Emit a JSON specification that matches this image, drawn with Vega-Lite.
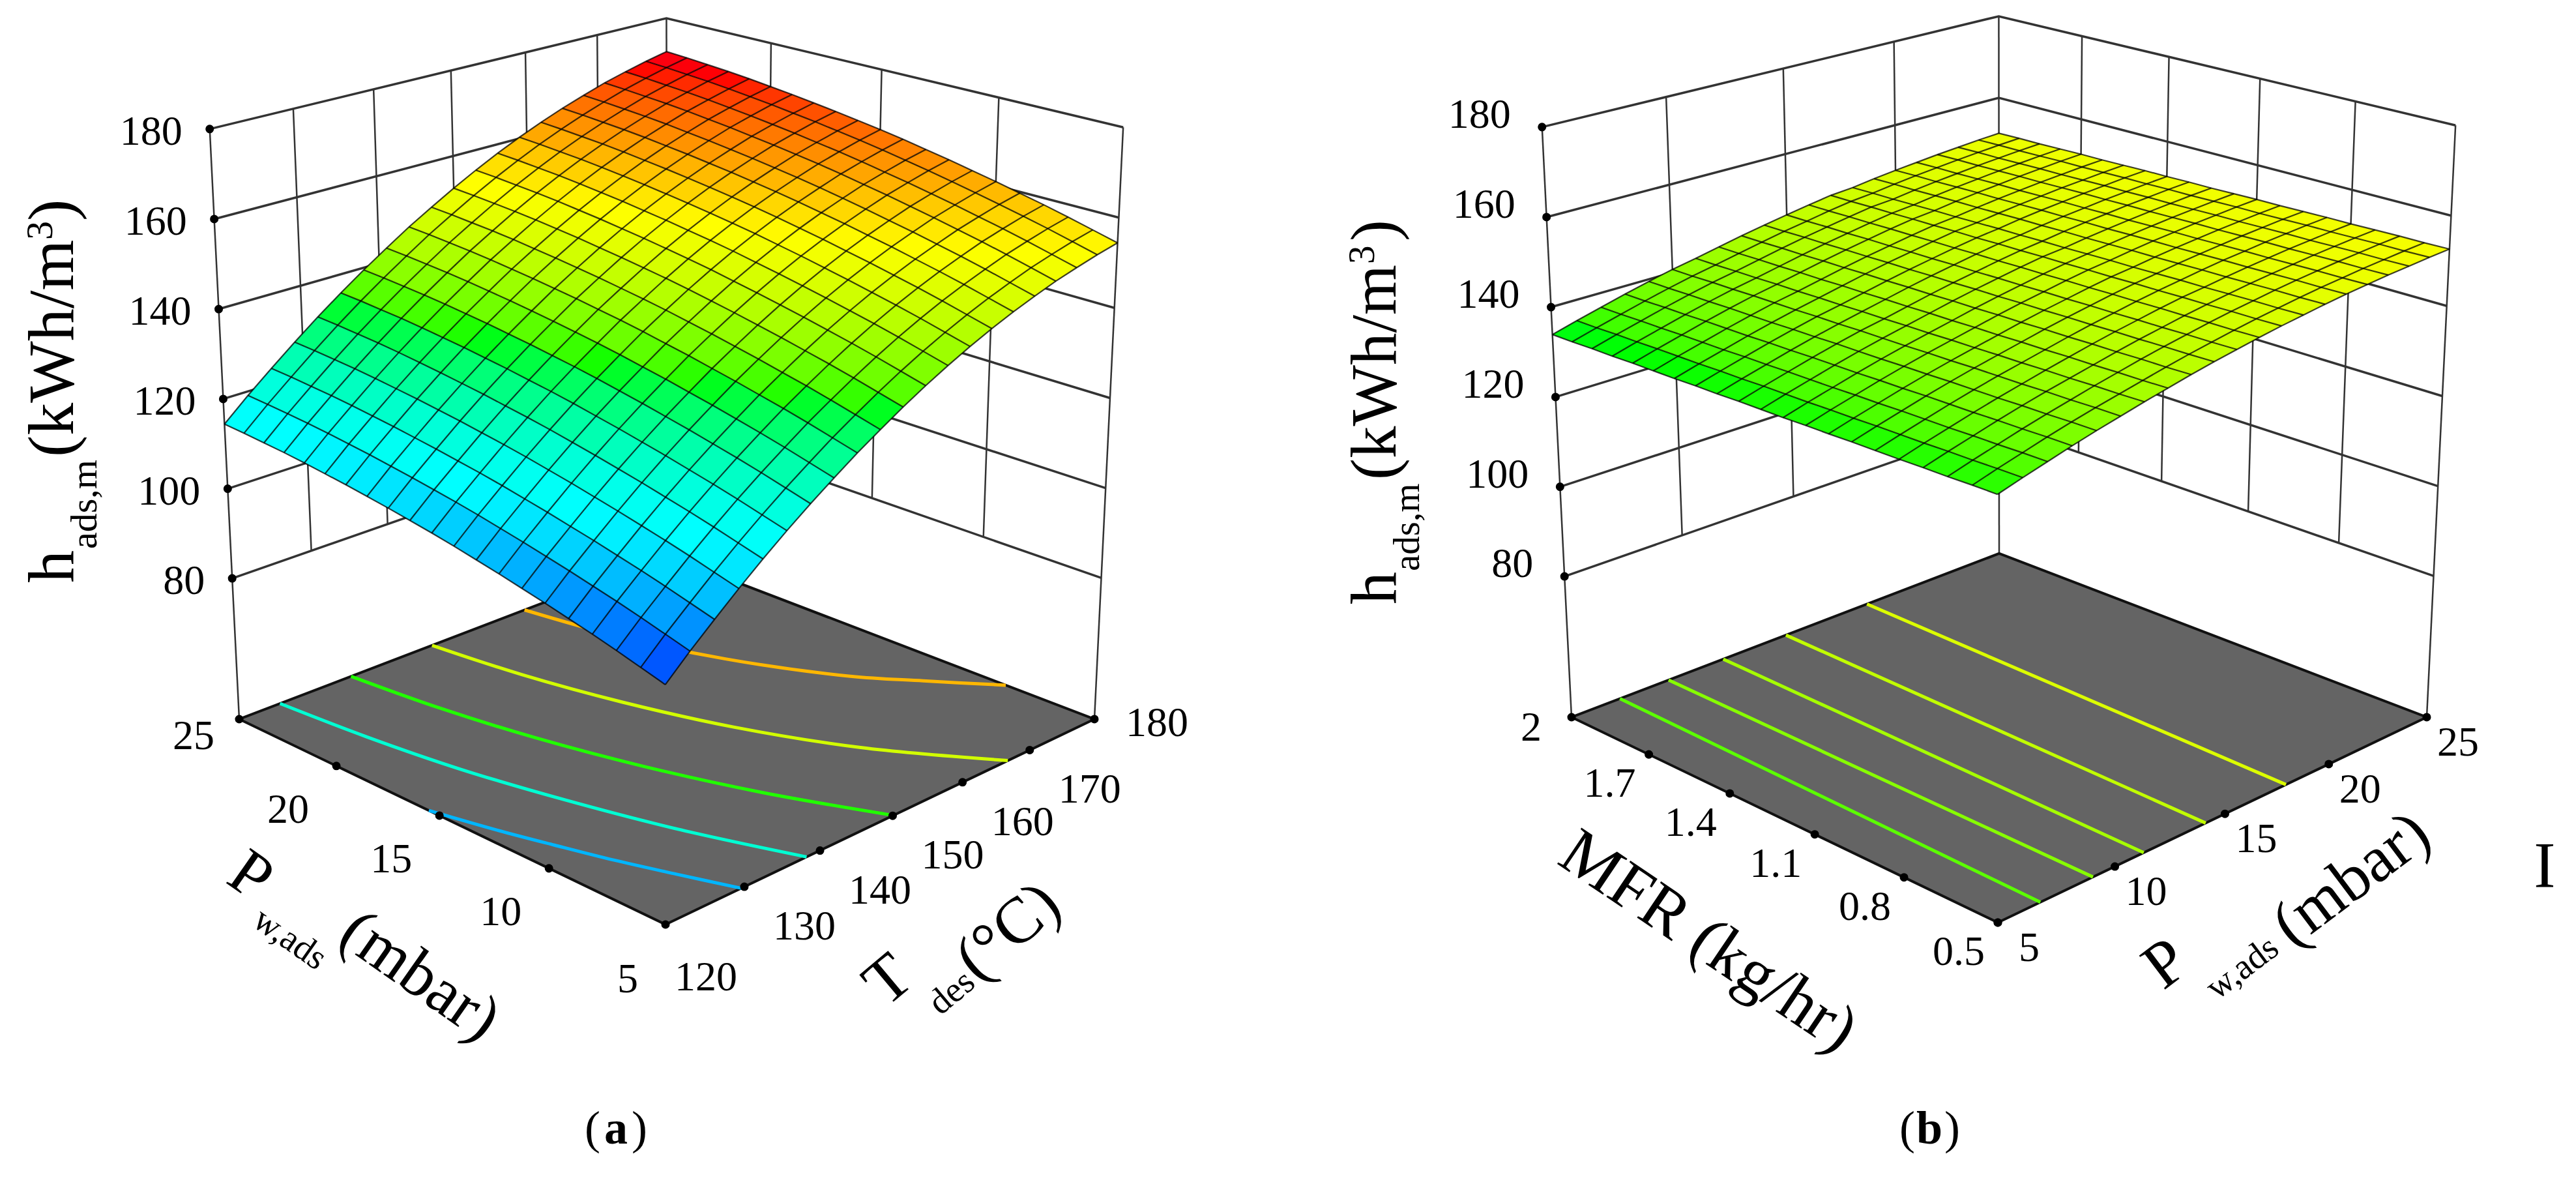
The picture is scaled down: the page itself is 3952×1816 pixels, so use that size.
{"$schema":"https://vega.github.io/schema/vega-lite/v6.json","autosize":{"type":"fit","contains":"padding"},"width":3952,"height":1816,"padding":0,"background":"white",
"config":{"view":{"stroke":null},"axis":{"disable":true},"text":{"font":"Liberation Serif","fontSize":64,"color":"black"}},
"data":{"values":[
{"k":"Z","T":120,"P":5},
{"k":"H","id":"a80","n":0,"T":120,"P":25,"h":80},{"k":"H","id":"a80","n":1,"T":180,"P":25,"h":80},{"k":"H","id":"a80","n":2,"T":180,"P":5,"h":80},
{"k":"H","id":"a100","n":0,"T":120,"P":25,"h":100},{"k":"H","id":"a100","n":1,"T":180,"P":25,"h":100},{"k":"H","id":"a100","n":2,"T":180,"P":5,"h":100},
{"k":"H","id":"a120","n":0,"T":120,"P":25,"h":120},{"k":"H","id":"a120","n":1,"T":180,"P":25,"h":120},{"k":"H","id":"a120","n":2,"T":180,"P":5,"h":120},
{"k":"H","id":"a140","n":0,"T":120,"P":25,"h":140},{"k":"H","id":"a140","n":1,"T":180,"P":25,"h":140},{"k":"H","id":"a140","n":2,"T":180,"P":5,"h":140},
{"k":"H","id":"a160","n":0,"T":120,"P":25,"h":160},{"k":"H","id":"a160","n":1,"T":180,"P":25,"h":160},{"k":"H","id":"a160","n":2,"T":180,"P":5,"h":160},
{"k":"H","id":"a180","n":0,"T":120,"P":25,"h":180},{"k":"H","id":"a180","n":1,"T":180,"P":25,"h":180},{"k":"H","id":"a180","n":2,"T":180,"P":5,"h":180},
{"k":"H","id":"b80","n":0,"P":5,"M":2,"h":80},{"k":"H","id":"b80","n":1,"P":25,"M":2,"h":80},{"k":"H","id":"b80","n":2,"P":25,"M":0.5,"h":80},
{"k":"H","id":"b100","n":0,"P":5,"M":2,"h":100},{"k":"H","id":"b100","n":1,"P":25,"M":2,"h":100},{"k":"H","id":"b100","n":2,"P":25,"M":0.5,"h":100},
{"k":"H","id":"b120","n":0,"P":5,"M":2,"h":120},{"k":"H","id":"b120","n":1,"P":25,"M":2,"h":120},{"k":"H","id":"b120","n":2,"P":25,"M":0.5,"h":120},
{"k":"H","id":"b140","n":0,"P":5,"M":2,"h":140},{"k":"H","id":"b140","n":1,"P":25,"M":2,"h":140},{"k":"H","id":"b140","n":2,"P":25,"M":0.5,"h":140},
{"k":"H","id":"b160","n":0,"P":5,"M":2,"h":160},{"k":"H","id":"b160","n":1,"P":25,"M":2,"h":160},{"k":"H","id":"b160","n":2,"P":25,"M":0.5,"h":160},
{"k":"H","id":"b180","n":0,"P":5,"M":2,"h":180},{"k":"H","id":"b180","n":1,"P":25,"M":2,"h":180},{"k":"H","id":"b180","n":2,"P":25,"M":0.5,"h":180},
{"k":"V","id":"a130","n":0,"T":130,"P":25,"h":80},{"k":"V","id":"a130","n":1,"T":130,"P":25,"h":180},
{"k":"V","id":"a140","n":0,"T":140,"P":25,"h":80},{"k":"V","id":"a140","n":1,"T":140,"P":25,"h":180},
{"k":"V","id":"a150","n":0,"T":150,"P":25,"h":80},{"k":"V","id":"a150","n":1,"T":150,"P":25,"h":180},
{"k":"V","id":"a160","n":0,"T":160,"P":25,"h":80},{"k":"V","id":"a160","n":1,"T":160,"P":25,"h":180},
{"k":"V","id":"a170","n":0,"T":170,"P":25,"h":80},{"k":"V","id":"a170","n":1,"T":170,"P":25,"h":180},
{"k":"V","id":"ap10","n":0,"T":180,"P":10,"h":80},{"k":"V","id":"ap10","n":1,"T":180,"P":10,"h":180},
{"k":"V","id":"ap15","n":0,"T":180,"P":15,"h":80},{"k":"V","id":"ap15","n":1,"T":180,"P":15,"h":180},
{"k":"V","id":"ap20","n":0,"T":180,"P":20,"h":80},{"k":"V","id":"ap20","n":1,"T":180,"P":20,"h":180},
{"k":"V","id":"ac1","n":0,"T":120,"P":25},{"k":"V","id":"ac1","n":1,"T":120,"P":25,"h":180},
{"k":"V","id":"ac2","n":0,"T":180,"P":25},{"k":"V","id":"ac2","n":1,"T":180,"P":25,"h":180},
{"k":"V","id":"ac3","n":0,"T":180,"P":5},{"k":"V","id":"ac3","n":1,"T":180,"P":5,"h":180},
{"k":"V","id":"bp10","n":0,"P":10,"M":2,"h":80},{"k":"V","id":"bp10","n":1,"P":10,"M":2,"h":180},
{"k":"V","id":"bp15","n":0,"P":15,"M":2,"h":80},{"k":"V","id":"bp15","n":1,"P":15,"M":2,"h":180},
{"k":"V","id":"bp20","n":0,"P":20,"M":2,"h":80},{"k":"V","id":"bp20","n":1,"P":20,"M":2,"h":180},
{"k":"V","id":"bm08","n":0,"P":25,"M":0.8,"h":80},{"k":"V","id":"bm08","n":1,"P":25,"M":0.8,"h":180},
{"k":"V","id":"bm11","n":0,"P":25,"M":1.1,"h":80},{"k":"V","id":"bm11","n":1,"P":25,"M":1.1,"h":180},
{"k":"V","id":"bm14","n":0,"P":25,"M":1.4,"h":80},{"k":"V","id":"bm14","n":1,"P":25,"M":1.4,"h":180},
{"k":"V","id":"bm17","n":0,"P":25,"M":1.7,"h":80},{"k":"V","id":"bm17","n":1,"P":25,"M":1.7,"h":180},
{"k":"V","id":"bc1","n":0,"P":5,"M":2},{"k":"V","id":"bc1","n":1,"P":5,"M":2,"h":180},
{"k":"V","id":"bc2","n":0,"P":25,"M":2},{"k":"V","id":"bc2","n":1,"P":25,"M":2,"h":180},
{"k":"V","id":"bc3","n":0,"P":25,"M":0.5},{"k":"V","id":"bc3","n":1,"P":25,"M":0.5,"h":180},
{"k":"F","id":"a","n":0,"T":120,"P":5},{"k":"F","id":"a","n":1,"T":180,"P":5},{"k":"F","id":"a","n":2,"T":180,"P":25},{"k":"F","id":"a","n":3,"T":120,"P":25},{"k":"F","id":"a","n":4,"T":120,"P":5},
{"k":"F","id":"b","n":0,"P":5,"M":0.5},{"k":"F","id":"b","n":1,"P":25,"M":0.5},{"k":"F","id":"b","n":2,"P":25,"M":2},{"k":"F","id":"b","n":3,"P":5,"M":2},{"k":"F","id":"b","n":4,"P":5,"M":0.5},
{"k":"C","id":"a1","n":0,"L":108,"T":120,"P":15.5},{"k":"C","id":"a1","n":1,"L":108,"T":121.8,"P":13},{"k":"C","id":"a1","n":2,"L":108,"T":123.5,"P":11},{"k":"C","id":"a1","n":3,"L":108,"T":125.3,"P":9},{"k":"C","id":"a1","n":4,"L":108,"T":127.4,"P":7},{"k":"C","id":"a1","n":5,"L":108,"T":129.6,"P":5},
{"k":"C","id":"a2","n":0,"L":122.3,"T":125.2,"P":25},{"k":"C","id":"a2","n":1,"L":122.3,"T":126.3,"P":21},{"k":"C","id":"a2","n":2,"L":122.3,"T":128,"P":17},{"k":"C","id":"a2","n":3,"L":122.3,"T":130.6,"P":13},{"k":"C","id":"a2","n":4,"L":122.3,"T":133.9,"P":9},{"k":"C","id":"a2","n":5,"L":122.3,"T":138.2,"P":5},
{"k":"C","id":"a3","n":0,"L":135.2,"T":134.5,"P":25},{"k":"C","id":"a3","n":1,"L":135.2,"T":135.8,"P":21},{"k":"C","id":"a3","n":2,"L":135.2,"T":137.9,"P":17},{"k":"C","id":"a3","n":3,"L":135.2,"T":140.9,"P":13},{"k":"C","id":"a3","n":4,"L":135.2,"T":144.9,"P":9},{"k":"C","id":"a3","n":5,"L":135.2,"T":150.1,"P":5},
{"k":"C","id":"a4","n":0,"L":148,"T":145.5,"P":25},{"k":"C","id":"a4","n":1,"L":148,"T":147.1,"P":21},{"k":"C","id":"a4","n":2,"L":148,"T":149.7,"P":17},{"k":"C","id":"a4","n":3,"L":148,"T":153.4,"P":13},{"k":"C","id":"a4","n":4,"L":148,"T":158.8,"P":9},{"k":"C","id":"a4","n":5,"L":148,"T":166.7,"P":5},
{"k":"C","id":"a5","n":0,"L":160,"T":158.6,"P":25},{"k":"C","id":"a5","n":1,"L":160,"T":160.8,"P":21},{"k":"C","id":"a5","n":2,"L":160,"T":164.6,"P":17},{"k":"C","id":"a5","n":3,"L":160,"T":170.5,"P":13},{"k":"C","id":"a5","n":4,"L":160,"T":174.9,"P":11},{"k":"C","id":"a5","n":5,"L":160,"T":180,"P":8.8},
{"k":"C","id":"b1","n":0,"L":137.4,"P":7.06,"M":2},{"k":"C","id":"b1","n":1,"L":137.4,"P":6.78,"M":0.5},
{"k":"C","id":"b2","n":0,"L":140.4,"P":9.18,"M":2},{"k":"C","id":"b2","n":1,"L":140.4,"P":9.04,"M":0.5},
{"k":"C","id":"b3","n":0,"L":143.2,"P":11.62,"M":2},{"k":"C","id":"b3","n":1,"L":143.2,"P":11.28,"M":0.5},
{"k":"C","id":"b4","n":0,"L":146.2,"P":14.5,"M":2},{"k":"C","id":"b4","n":1,"L":146.2,"P":14.1,"M":0.5},
{"k":"C","id":"b5","n":0,"L":149.2,"P":18.36,"M":2},{"k":"C","id":"b5","n":1,"L":149.2,"P":17.9,"M":0.5},
{"k":"t0","T":120,"P":5},{"k":"t0","T":180,"P":5},{"k":"t0","T":120,"P":25},{"k":"t0","P":5,"M":2},
{"k":"tT","T":130,"P":5,"l":"130"},{"k":"tT","T":140,"P":5,"l":"140"},{"k":"tT","T":150,"P":5,"l":"150"},{"k":"tT","T":160,"P":5,"l":"160"},{"k":"tT","T":170,"P":5,"l":"170"},
{"k":"tP","T":120,"P":10,"l":"10"},{"k":"tP","T":120,"P":15,"l":"15"},{"k":"tP","T":120,"P":20,"l":"20"},
{"k":"tQ","P":5,"M":0.5,"l":"5"},{"k":"tQ","P":10,"M":0.5,"l":"10"},{"k":"tQ","P":15,"M":0.5,"l":"15"},{"k":"tQ","P":20,"M":0.5,"l":"20"},{"k":"tQ","P":25,"M":0.5,"l":"25"},
{"k":"tM","P":5,"M":0.5,"l":"0.5"},{"k":"tM","P":5,"M":0.8,"l":"0.8"},{"k":"tM","P":5,"M":1.1,"l":"1.1"},{"k":"tM","P":5,"M":1.4,"l":"1.4"},{"k":"tM","P":5,"M":1.7,"l":"1.7"},
{"k":"ta","T":120,"P":25,"h":80,"l":"80"},{"k":"ta","T":120,"P":25,"h":100,"l":"100"},{"k":"ta","T":120,"P":25,"h":120,"l":"120"},{"k":"ta","T":120,"P":25,"h":140,"l":"140"},{"k":"ta","T":120,"P":25,"h":160,"l":"160"},{"k":"ta","T":120,"P":25,"h":180,"l":"180"},
{"k":"tb","P":5,"M":2,"h":80,"l":"80"},{"k":"tb","P":5,"M":2,"h":100,"l":"100"},{"k":"tb","P":5,"M":2,"h":120,"l":"120"},{"k":"tb","P":5,"M":2,"h":140,"l":"140"},{"k":"tb","P":5,"M":2,"h":160,"l":"160"},{"k":"tb","P":5,"M":2,"h":180,"l":"180"},
{"T":120,"P":5,"h":97},{"T":120,"P":6,"h":98.4},{"T":120,"P":7,"h":99.8},{"T":120,"P":8,"h":101.1},{"T":120,"P":9,"h":102.3},{"T":120,"P":10,"h":103.5},{"T":120,"P":11,"h":104.6},{"T":120,"P":12,"h":105.7},{"T":120,"P":13,"h":106.7},{"T":120,"P":14,"h":107.7},{"T":120,"P":15,"h":108.6},{"T":120,"P":16,"h":109.4},{"T":120,"P":17,"h":110.2},{"T":120,"P":18,"h":110.9},{"T":120,"P":19,"h":111.6},{"T":120,"P":20,"h":112.2},{"T":120,"P":21,"h":112.8},{"T":120,"P":22,"h":113.3},{"T":120,"P":23,"h":113.7},{"T":120,"P":24,"h":114.1},{"T":120,"P":25,"h":114.4},
{"T":123,"P":5,"h":101.7},{"T":123,"P":6,"h":103.1},{"T":123,"P":7,"h":104.5},{"T":123,"P":8,"h":105.8},{"T":123,"P":9,"h":107},{"T":123,"P":10,"h":108.2},{"T":123,"P":11,"h":109.3},{"T":123,"P":12,"h":110.4},{"T":123,"P":13,"h":111.4},{"T":123,"P":14,"h":112.4},{"T":123,"P":15,"h":113.3},{"T":123,"P":16,"h":114.1},{"T":123,"P":17,"h":114.9},{"T":123,"P":18,"h":115.6},{"T":123,"P":19,"h":116.3},{"T":123,"P":20,"h":116.9},{"T":123,"P":21,"h":117.5},{"T":123,"P":22,"h":118},{"T":123,"P":23,"h":118.4},{"T":123,"P":24,"h":118.8},{"T":123,"P":25,"h":119.1},
{"T":126,"P":5,"h":106.1},{"T":126,"P":6,"h":107.5},{"T":126,"P":7,"h":108.9},{"T":126,"P":8,"h":110.2},{"T":126,"P":9,"h":111.4},{"T":126,"P":10,"h":112.6},{"T":126,"P":11,"h":113.7},{"T":126,"P":12,"h":114.8},{"T":126,"P":13,"h":115.8},{"T":126,"P":14,"h":116.8},{"T":126,"P":15,"h":117.7},{"T":126,"P":16,"h":118.5},{"T":126,"P":17,"h":119.3},{"T":126,"P":18,"h":120},{"T":126,"P":19,"h":120.7},{"T":126,"P":20,"h":121.3},{"T":126,"P":21,"h":121.9},{"T":126,"P":22,"h":122.4},{"T":126,"P":23,"h":122.8},{"T":126,"P":24,"h":123.2},{"T":126,"P":25,"h":123.5},
{"T":129,"P":5,"h":110.4},{"T":129,"P":6,"h":111.8},{"T":129,"P":7,"h":113.2},{"T":129,"P":8,"h":114.5},{"T":129,"P":9,"h":115.7},{"T":129,"P":10,"h":116.9},{"T":129,"P":11,"h":118},{"T":129,"P":12,"h":119.1},{"T":129,"P":13,"h":120.1},{"T":129,"P":14,"h":121.1},{"T":129,"P":15,"h":122},{"T":129,"P":16,"h":122.8},{"T":129,"P":17,"h":123.6},{"T":129,"P":18,"h":124.3},{"T":129,"P":19,"h":125},{"T":129,"P":20,"h":125.6},{"T":129,"P":21,"h":126.2},{"T":129,"P":22,"h":126.7},{"T":129,"P":23,"h":127.1},{"T":129,"P":24,"h":127.5},{"T":129,"P":25,"h":127.8},
{"T":132,"P":5,"h":114.5},{"T":132,"P":6,"h":115.9},{"T":132,"P":7,"h":117.3},{"T":132,"P":8,"h":118.6},{"T":132,"P":9,"h":119.8},{"T":132,"P":10,"h":121},{"T":132,"P":11,"h":122.1},{"T":132,"P":12,"h":123.2},{"T":132,"P":13,"h":124.2},{"T":132,"P":14,"h":125.2},{"T":132,"P":15,"h":126.1},{"T":132,"P":16,"h":126.9},{"T":132,"P":17,"h":127.7},{"T":132,"P":18,"h":128.4},{"T":132,"P":19,"h":129.1},{"T":132,"P":20,"h":129.7},{"T":132,"P":21,"h":130.3},{"T":132,"P":22,"h":130.8},{"T":132,"P":23,"h":131.2},{"T":132,"P":24,"h":131.6},{"T":132,"P":25,"h":131.9},
{"T":135,"P":5,"h":118.4},{"T":135,"P":6,"h":119.8},{"T":135,"P":7,"h":121.2},{"T":135,"P":8,"h":122.5},{"T":135,"P":9,"h":123.7},{"T":135,"P":10,"h":124.9},{"T":135,"P":11,"h":126},{"T":135,"P":12,"h":127.1},{"T":135,"P":13,"h":128.1},{"T":135,"P":14,"h":129.1},{"T":135,"P":15,"h":130},{"T":135,"P":16,"h":130.8},{"T":135,"P":17,"h":131.6},{"T":135,"P":18,"h":132.3},{"T":135,"P":19,"h":133},{"T":135,"P":20,"h":133.6},{"T":135,"P":21,"h":134.2},{"T":135,"P":22,"h":134.7},{"T":135,"P":23,"h":135.1},{"T":135,"P":24,"h":135.5},{"T":135,"P":25,"h":135.8},
{"T":138,"P":5,"h":122.1},{"T":138,"P":6,"h":123.5},{"T":138,"P":7,"h":124.9},{"T":138,"P":8,"h":126.2},{"T":138,"P":9,"h":127.4},{"T":138,"P":10,"h":128.6},{"T":138,"P":11,"h":129.7},{"T":138,"P":12,"h":130.8},{"T":138,"P":13,"h":131.8},{"T":138,"P":14,"h":132.8},{"T":138,"P":15,"h":133.7},{"T":138,"P":16,"h":134.5},{"T":138,"P":17,"h":135.3},{"T":138,"P":18,"h":136},{"T":138,"P":19,"h":136.7},{"T":138,"P":20,"h":137.3},{"T":138,"P":21,"h":137.9},{"T":138,"P":22,"h":138.4},{"T":138,"P":23,"h":138.8},{"T":138,"P":24,"h":139.2},{"T":138,"P":25,"h":139.5},
{"T":141,"P":5,"h":125.6},{"T":141,"P":6,"h":127},{"T":141,"P":7,"h":128.4},{"T":141,"P":8,"h":129.7},{"T":141,"P":9,"h":130.9},{"T":141,"P":10,"h":132.1},{"T":141,"P":11,"h":133.2},{"T":141,"P":12,"h":134.3},{"T":141,"P":13,"h":135.3},{"T":141,"P":14,"h":136.3},{"T":141,"P":15,"h":137.2},{"T":141,"P":16,"h":138},{"T":141,"P":17,"h":138.8},{"T":141,"P":18,"h":139.5},{"T":141,"P":19,"h":140.2},{"T":141,"P":20,"h":140.8},{"T":141,"P":21,"h":141.4},{"T":141,"P":22,"h":141.9},{"T":141,"P":23,"h":142.3},{"T":141,"P":24,"h":142.7},{"T":141,"P":25,"h":143},
{"T":144,"P":5,"h":129},{"T":144,"P":6,"h":130.4},{"T":144,"P":7,"h":131.8},{"T":144,"P":8,"h":133.1},{"T":144,"P":9,"h":134.3},{"T":144,"P":10,"h":135.5},{"T":144,"P":11,"h":136.6},{"T":144,"P":12,"h":137.7},{"T":144,"P":13,"h":138.7},{"T":144,"P":14,"h":139.7},{"T":144,"P":15,"h":140.6},{"T":144,"P":16,"h":141.4},{"T":144,"P":17,"h":142.2},{"T":144,"P":18,"h":142.9},{"T":144,"P":19,"h":143.6},{"T":144,"P":20,"h":144.2},{"T":144,"P":21,"h":144.8},{"T":144,"P":22,"h":145.3},{"T":144,"P":23,"h":145.7},{"T":144,"P":24,"h":146.1},{"T":144,"P":25,"h":146.4},
{"T":147,"P":5,"h":132.1},{"T":147,"P":6,"h":133.5},{"T":147,"P":7,"h":134.9},{"T":147,"P":8,"h":136.2},{"T":147,"P":9,"h":137.4},{"T":147,"P":10,"h":138.6},{"T":147,"P":11,"h":139.7},{"T":147,"P":12,"h":140.8},{"T":147,"P":13,"h":141.8},{"T":147,"P":14,"h":142.8},{"T":147,"P":15,"h":143.7},{"T":147,"P":16,"h":144.5},{"T":147,"P":17,"h":145.3},{"T":147,"P":18,"h":146},{"T":147,"P":19,"h":146.7},{"T":147,"P":20,"h":147.3},{"T":147,"P":21,"h":147.9},{"T":147,"P":22,"h":148.4},{"T":147,"P":23,"h":148.8},{"T":147,"P":24,"h":149.2},{"T":147,"P":25,"h":149.5},
{"T":150,"P":5,"h":135.1},{"T":150,"P":6,"h":136.5},{"T":150,"P":7,"h":137.9},{"T":150,"P":8,"h":139.2},{"T":150,"P":9,"h":140.4},{"T":150,"P":10,"h":141.6},{"T":150,"P":11,"h":142.7},{"T":150,"P":12,"h":143.8},{"T":150,"P":13,"h":144.8},{"T":150,"P":14,"h":145.8},{"T":150,"P":15,"h":146.7},{"T":150,"P":16,"h":147.5},{"T":150,"P":17,"h":148.3},{"T":150,"P":18,"h":149},{"T":150,"P":19,"h":149.7},{"T":150,"P":20,"h":150.3},{"T":150,"P":21,"h":150.9},{"T":150,"P":22,"h":151.4},{"T":150,"P":23,"h":151.8},{"T":150,"P":24,"h":152.2},{"T":150,"P":25,"h":152.5},
{"T":153,"P":5,"h":137.9},{"T":153,"P":6,"h":139.3},{"T":153,"P":7,"h":140.7},{"T":153,"P":8,"h":142},{"T":153,"P":9,"h":143.2},{"T":153,"P":10,"h":144.4},{"T":153,"P":11,"h":145.5},{"T":153,"P":12,"h":146.6},{"T":153,"P":13,"h":147.6},{"T":153,"P":14,"h":148.6},{"T":153,"P":15,"h":149.5},{"T":153,"P":16,"h":150.3},{"T":153,"P":17,"h":151.1},{"T":153,"P":18,"h":151.8},{"T":153,"P":19,"h":152.5},{"T":153,"P":20,"h":153.1},{"T":153,"P":21,"h":153.7},{"T":153,"P":22,"h":154.2},{"T":153,"P":23,"h":154.6},{"T":153,"P":24,"h":155},{"T":153,"P":25,"h":155.3},
{"T":156,"P":5,"h":140.5},{"T":156,"P":6,"h":141.9},{"T":156,"P":7,"h":143.3},{"T":156,"P":8,"h":144.6},{"T":156,"P":9,"h":145.8},{"T":156,"P":10,"h":147},{"T":156,"P":11,"h":148.1},{"T":156,"P":12,"h":149.2},{"T":156,"P":13,"h":150.2},{"T":156,"P":14,"h":151.2},{"T":156,"P":15,"h":152.1},{"T":156,"P":16,"h":152.9},{"T":156,"P":17,"h":153.7},{"T":156,"P":18,"h":154.4},{"T":156,"P":19,"h":155.1},{"T":156,"P":20,"h":155.7},{"T":156,"P":21,"h":156.3},{"T":156,"P":22,"h":156.8},{"T":156,"P":23,"h":157.2},{"T":156,"P":24,"h":157.6},{"T":156,"P":25,"h":157.9},
{"T":159,"P":5,"h":142.9},{"T":159,"P":6,"h":144.3},{"T":159,"P":7,"h":145.7},{"T":159,"P":8,"h":147},{"T":159,"P":9,"h":148.2},{"T":159,"P":10,"h":149.4},{"T":159,"P":11,"h":150.5},{"T":159,"P":12,"h":151.6},{"T":159,"P":13,"h":152.6},{"T":159,"P":14,"h":153.6},{"T":159,"P":15,"h":154.5},{"T":159,"P":16,"h":155.3},{"T":159,"P":17,"h":156.1},{"T":159,"P":18,"h":156.8},{"T":159,"P":19,"h":157.5},{"T":159,"P":20,"h":158.1},{"T":159,"P":21,"h":158.7},{"T":159,"P":22,"h":159.2},{"T":159,"P":23,"h":159.6},{"T":159,"P":24,"h":160},{"T":159,"P":25,"h":160.3},
{"T":162,"P":5,"h":145.1},{"T":162,"P":6,"h":146.5},{"T":162,"P":7,"h":147.9},{"T":162,"P":8,"h":149.2},{"T":162,"P":9,"h":150.4},{"T":162,"P":10,"h":151.6},{"T":162,"P":11,"h":152.7},{"T":162,"P":12,"h":153.8},{"T":162,"P":13,"h":154.8},{"T":162,"P":14,"h":155.8},{"T":162,"P":15,"h":156.7},{"T":162,"P":16,"h":157.5},{"T":162,"P":17,"h":158.3},{"T":162,"P":18,"h":159},{"T":162,"P":19,"h":159.7},{"T":162,"P":20,"h":160.3},{"T":162,"P":21,"h":160.9},{"T":162,"P":22,"h":161.4},{"T":162,"P":23,"h":161.8},{"T":162,"P":24,"h":162.2},{"T":162,"P":25,"h":162.5},
{"T":165,"P":5,"h":147.1},{"T":165,"P":6,"h":148.5},{"T":165,"P":7,"h":149.9},{"T":165,"P":8,"h":151.2},{"T":165,"P":9,"h":152.4},{"T":165,"P":10,"h":153.6},{"T":165,"P":11,"h":154.7},{"T":165,"P":12,"h":155.8},{"T":165,"P":13,"h":156.8},{"T":165,"P":14,"h":157.8},{"T":165,"P":15,"h":158.7},{"T":165,"P":16,"h":159.5},{"T":165,"P":17,"h":160.3},{"T":165,"P":18,"h":161},{"T":165,"P":19,"h":161.7},{"T":165,"P":20,"h":162.3},{"T":165,"P":21,"h":162.9},{"T":165,"P":22,"h":163.4},{"T":165,"P":23,"h":163.8},{"T":165,"P":24,"h":164.2},{"T":165,"P":25,"h":164.5},
{"T":168,"P":5,"h":148.9},{"T":168,"P":6,"h":150.3},{"T":168,"P":7,"h":151.7},{"T":168,"P":8,"h":153},{"T":168,"P":9,"h":154.2},{"T":168,"P":10,"h":155.4},{"T":168,"P":11,"h":156.5},{"T":168,"P":12,"h":157.6},{"T":168,"P":13,"h":158.6},{"T":168,"P":14,"h":159.6},{"T":168,"P":15,"h":160.5},{"T":168,"P":16,"h":161.3},{"T":168,"P":17,"h":162.1},{"T":168,"P":18,"h":162.8},{"T":168,"P":19,"h":163.5},{"T":168,"P":20,"h":164.1},{"T":168,"P":21,"h":164.7},{"T":168,"P":22,"h":165.2},{"T":168,"P":23,"h":165.6},{"T":168,"P":24,"h":166},{"T":168,"P":25,"h":166.3},
{"T":171,"P":5,"h":150.6},{"T":171,"P":6,"h":152},{"T":171,"P":7,"h":153.4},{"T":171,"P":8,"h":154.7},{"T":171,"P":9,"h":155.9},{"T":171,"P":10,"h":157.1},{"T":171,"P":11,"h":158.2},{"T":171,"P":12,"h":159.3},{"T":171,"P":13,"h":160.3},{"T":171,"P":14,"h":161.3},{"T":171,"P":15,"h":162.2},{"T":171,"P":16,"h":163},{"T":171,"P":17,"h":163.8},{"T":171,"P":18,"h":164.5},{"T":171,"P":19,"h":165.2},{"T":171,"P":20,"h":165.8},{"T":171,"P":21,"h":166.4},{"T":171,"P":22,"h":166.9},{"T":171,"P":23,"h":167.3},{"T":171,"P":24,"h":167.7},{"T":171,"P":25,"h":168},
{"T":174,"P":5,"h":152},{"T":174,"P":6,"h":153.4},{"T":174,"P":7,"h":154.8},{"T":174,"P":8,"h":156.1},{"T":174,"P":9,"h":157.3},{"T":174,"P":10,"h":158.5},{"T":174,"P":11,"h":159.6},{"T":174,"P":12,"h":160.7},{"T":174,"P":13,"h":161.7},{"T":174,"P":14,"h":162.7},{"T":174,"P":15,"h":163.6},{"T":174,"P":16,"h":164.4},{"T":174,"P":17,"h":165.2},{"T":174,"P":18,"h":165.9},{"T":174,"P":19,"h":166.6},{"T":174,"P":20,"h":167.2},{"T":174,"P":21,"h":167.8},{"T":174,"P":22,"h":168.3},{"T":174,"P":23,"h":168.7},{"T":174,"P":24,"h":169.1},{"T":174,"P":25,"h":169.4},
{"T":177,"P":5,"h":153.3},{"T":177,"P":6,"h":154.7},{"T":177,"P":7,"h":156.1},{"T":177,"P":8,"h":157.4},{"T":177,"P":9,"h":158.6},{"T":177,"P":10,"h":159.8},{"T":177,"P":11,"h":160.9},{"T":177,"P":12,"h":162},{"T":177,"P":13,"h":163},{"T":177,"P":14,"h":164},{"T":177,"P":15,"h":164.9},{"T":177,"P":16,"h":165.7},{"T":177,"P":17,"h":166.5},{"T":177,"P":18,"h":167.2},{"T":177,"P":19,"h":167.9},{"T":177,"P":20,"h":168.5},{"T":177,"P":21,"h":169.1},{"T":177,"P":22,"h":169.6},{"T":177,"P":23,"h":170},{"T":177,"P":24,"h":170.4},{"T":177,"P":25,"h":170.7},
{"T":180,"P":5,"h":154.4},{"T":180,"P":6,"h":155.8},{"T":180,"P":7,"h":157.2},{"T":180,"P":8,"h":158.5},{"T":180,"P":9,"h":159.7},{"T":180,"P":10,"h":160.9},{"T":180,"P":11,"h":162},{"T":180,"P":12,"h":163.1},{"T":180,"P":13,"h":164.1},{"T":180,"P":14,"h":165.1},{"T":180,"P":15,"h":166},{"T":180,"P":16,"h":166.8},{"T":180,"P":17,"h":167.6},{"T":180,"P":18,"h":168.3},{"T":180,"P":19,"h":169},{"T":180,"P":20,"h":169.6},{"T":180,"P":21,"h":170.2},{"T":180,"P":22,"h":170.7},{"T":180,"P":23,"h":171.1},{"T":180,"P":24,"h":171.5},{"T":180,"P":25,"h":171.8},
{"P":5,"M":0.5,"h":134.7},{"P":5,"M":0.575,"h":134.7},{"P":5,"M":0.65,"h":134.6},{"P":5,"M":0.725,"h":134.6},{"P":5,"M":0.8,"h":134.5},{"P":5,"M":0.875,"h":134.5},{"P":5,"M":0.95,"h":134.5},{"P":5,"M":1.025,"h":134.4},{"P":5,"M":1.1,"h":134.4},{"P":5,"M":1.175,"h":134.3},{"P":5,"M":1.25,"h":134.3},{"P":5,"M":1.325,"h":134.3},{"P":5,"M":1.4,"h":134.2},{"P":5,"M":1.475,"h":134.2},{"P":5,"M":1.55,"h":134.1},{"P":5,"M":1.625,"h":134.1},{"P":5,"M":1.7,"h":134.1},{"P":5,"M":1.775,"h":134},{"P":5,"M":1.85,"h":134},{"P":5,"M":1.925,"h":133.9},{"P":5,"M":2,"h":133.9},
{"P":6,"M":0.5,"h":136.2},{"P":6,"M":0.575,"h":136.2},{"P":6,"M":0.65,"h":136.1},{"P":6,"M":0.725,"h":136.1},{"P":6,"M":0.8,"h":136},{"P":6,"M":0.875,"h":136},{"P":6,"M":0.95,"h":136},{"P":6,"M":1.025,"h":135.9},{"P":6,"M":1.1,"h":135.9},{"P":6,"M":1.175,"h":135.8},{"P":6,"M":1.25,"h":135.8},{"P":6,"M":1.325,"h":135.8},{"P":6,"M":1.4,"h":135.7},{"P":6,"M":1.475,"h":135.7},{"P":6,"M":1.55,"h":135.6},{"P":6,"M":1.625,"h":135.6},{"P":6,"M":1.7,"h":135.6},{"P":6,"M":1.775,"h":135.5},{"P":6,"M":1.85,"h":135.5},{"P":6,"M":1.925,"h":135.4},{"P":6,"M":2,"h":135.4},
{"P":7,"M":0.5,"h":137.6},{"P":7,"M":0.575,"h":137.6},{"P":7,"M":0.65,"h":137.5},{"P":7,"M":0.725,"h":137.5},{"P":7,"M":0.8,"h":137.4},{"P":7,"M":0.875,"h":137.4},{"P":7,"M":0.95,"h":137.4},{"P":7,"M":1.025,"h":137.3},{"P":7,"M":1.1,"h":137.3},{"P":7,"M":1.175,"h":137.2},{"P":7,"M":1.25,"h":137.2},{"P":7,"M":1.325,"h":137.2},{"P":7,"M":1.4,"h":137.1},{"P":7,"M":1.475,"h":137.1},{"P":7,"M":1.55,"h":137},{"P":7,"M":1.625,"h":137},{"P":7,"M":1.7,"h":137},{"P":7,"M":1.775,"h":136.9},{"P":7,"M":1.85,"h":136.9},{"P":7,"M":1.925,"h":136.8},{"P":7,"M":2,"h":136.8},
{"P":8,"M":0.5,"h":139},{"P":8,"M":0.575,"h":139},{"P":8,"M":0.65,"h":138.9},{"P":8,"M":0.725,"h":138.9},{"P":8,"M":0.8,"h":138.8},{"P":8,"M":0.875,"h":138.8},{"P":8,"M":0.95,"h":138.8},{"P":8,"M":1.025,"h":138.7},{"P":8,"M":1.1,"h":138.7},{"P":8,"M":1.175,"h":138.6},{"P":8,"M":1.25,"h":138.6},{"P":8,"M":1.325,"h":138.6},{"P":8,"M":1.4,"h":138.5},{"P":8,"M":1.475,"h":138.5},{"P":8,"M":1.55,"h":138.4},{"P":8,"M":1.625,"h":138.4},{"P":8,"M":1.7,"h":138.4},{"P":8,"M":1.775,"h":138.3},{"P":8,"M":1.85,"h":138.3},{"P":8,"M":1.925,"h":138.2},{"P":8,"M":2,"h":138.2},
{"P":9,"M":0.5,"h":140.3},{"P":9,"M":0.575,"h":140.3},{"P":9,"M":0.65,"h":140.2},{"P":9,"M":0.725,"h":140.2},{"P":9,"M":0.8,"h":140.1},{"P":9,"M":0.875,"h":140.1},{"P":9,"M":0.95,"h":140.1},{"P":9,"M":1.025,"h":140},{"P":9,"M":1.1,"h":140},{"P":9,"M":1.175,"h":139.9},{"P":9,"M":1.25,"h":139.9},{"P":9,"M":1.325,"h":139.9},{"P":9,"M":1.4,"h":139.8},{"P":9,"M":1.475,"h":139.8},{"P":9,"M":1.55,"h":139.7},{"P":9,"M":1.625,"h":139.7},{"P":9,"M":1.7,"h":139.7},{"P":9,"M":1.775,"h":139.6},{"P":9,"M":1.85,"h":139.6},{"P":9,"M":1.925,"h":139.5},{"P":9,"M":2,"h":139.5},
{"P":10,"M":0.5,"h":141.5},{"P":10,"M":0.575,"h":141.5},{"P":10,"M":0.65,"h":141.4},{"P":10,"M":0.725,"h":141.4},{"P":10,"M":0.8,"h":141.3},{"P":10,"M":0.875,"h":141.3},{"P":10,"M":0.95,"h":141.3},{"P":10,"M":1.025,"h":141.2},{"P":10,"M":1.1,"h":141.2},{"P":10,"M":1.175,"h":141.1},{"P":10,"M":1.25,"h":141.1},{"P":10,"M":1.325,"h":141.1},{"P":10,"M":1.4,"h":141},{"P":10,"M":1.475,"h":141},{"P":10,"M":1.55,"h":140.9},{"P":10,"M":1.625,"h":140.9},{"P":10,"M":1.7,"h":140.9},{"P":10,"M":1.775,"h":140.8},{"P":10,"M":1.85,"h":140.8},{"P":10,"M":1.925,"h":140.7},{"P":10,"M":2,"h":140.7},
{"P":11,"M":0.5,"h":142.7},{"P":11,"M":0.575,"h":142.6},{"P":11,"M":0.65,"h":142.6},{"P":11,"M":0.725,"h":142.5},{"P":11,"M":0.8,"h":142.5},{"P":11,"M":0.875,"h":142.4},{"P":11,"M":0.95,"h":142.4},{"P":11,"M":1.025,"h":142.3},{"P":11,"M":1.1,"h":142.3},{"P":11,"M":1.175,"h":142.2},{"P":11,"M":1.25,"h":142.2},{"P":11,"M":1.325,"h":142.1},{"P":11,"M":1.4,"h":142.1},{"P":11,"M":1.475,"h":142},{"P":11,"M":1.55,"h":142},{"P":11,"M":1.625,"h":141.9},{"P":11,"M":1.7,"h":141.9},{"P":11,"M":1.775,"h":141.8},{"P":11,"M":1.85,"h":141.8},{"P":11,"M":1.925,"h":141.7},{"P":11,"M":2,"h":141.7},
{"P":12,"M":0.5,"h":143.8},{"P":12,"M":0.575,"h":143.7},{"P":12,"M":0.65,"h":143.7},{"P":12,"M":0.725,"h":143.6},{"P":12,"M":0.8,"h":143.6},{"P":12,"M":0.875,"h":143.5},{"P":12,"M":0.95,"h":143.5},{"P":12,"M":1.025,"h":143.4},{"P":12,"M":1.1,"h":143.4},{"P":12,"M":1.175,"h":143.3},{"P":12,"M":1.25,"h":143.3},{"P":12,"M":1.325,"h":143.2},{"P":12,"M":1.4,"h":143.2},{"P":12,"M":1.475,"h":143.1},{"P":12,"M":1.55,"h":143.1},{"P":12,"M":1.625,"h":143},{"P":12,"M":1.7,"h":143},{"P":12,"M":1.775,"h":142.9},{"P":12,"M":1.85,"h":142.9},{"P":12,"M":1.925,"h":142.8},{"P":12,"M":2,"h":142.8},
{"P":13,"M":0.5,"h":144.9},{"P":13,"M":0.575,"h":144.8},{"P":13,"M":0.65,"h":144.8},{"P":13,"M":0.725,"h":144.7},{"P":13,"M":0.8,"h":144.7},{"P":13,"M":0.875,"h":144.6},{"P":13,"M":0.95,"h":144.6},{"P":13,"M":1.025,"h":144.5},{"P":13,"M":1.1,"h":144.5},{"P":13,"M":1.175,"h":144.4},{"P":13,"M":1.25,"h":144.4},{"P":13,"M":1.325,"h":144.3},{"P":13,"M":1.4,"h":144.3},{"P":13,"M":1.475,"h":144.2},{"P":13,"M":1.55,"h":144.2},{"P":13,"M":1.625,"h":144.1},{"P":13,"M":1.7,"h":144.1},{"P":13,"M":1.775,"h":144},{"P":13,"M":1.85,"h":144},{"P":13,"M":1.925,"h":143.9},{"P":13,"M":2,"h":143.9},
{"P":14,"M":0.5,"h":145.9},{"P":14,"M":0.575,"h":145.8},{"P":14,"M":0.65,"h":145.8},{"P":14,"M":0.725,"h":145.7},{"P":14,"M":0.8,"h":145.7},{"P":14,"M":0.875,"h":145.6},{"P":14,"M":0.95,"h":145.6},{"P":14,"M":1.025,"h":145.5},{"P":14,"M":1.1,"h":145.5},{"P":14,"M":1.175,"h":145.4},{"P":14,"M":1.25,"h":145.4},{"P":14,"M":1.325,"h":145.3},{"P":14,"M":1.4,"h":145.3},{"P":14,"M":1.475,"h":145.2},{"P":14,"M":1.55,"h":145.2},{"P":14,"M":1.625,"h":145.1},{"P":14,"M":1.7,"h":145.1},{"P":14,"M":1.775,"h":145},{"P":14,"M":1.85,"h":145},{"P":14,"M":1.925,"h":144.9},{"P":14,"M":2,"h":144.9},
{"P":15,"M":0.5,"h":146.8},{"P":15,"M":0.575,"h":146.7},{"P":15,"M":0.65,"h":146.7},{"P":15,"M":0.725,"h":146.6},{"P":15,"M":0.8,"h":146.6},{"P":15,"M":0.875,"h":146.5},{"P":15,"M":0.95,"h":146.5},{"P":15,"M":1.025,"h":146.4},{"P":15,"M":1.1,"h":146.4},{"P":15,"M":1.175,"h":146.3},{"P":15,"M":1.25,"h":146.3},{"P":15,"M":1.325,"h":146.2},{"P":15,"M":1.4,"h":146.2},{"P":15,"M":1.475,"h":146.1},{"P":15,"M":1.55,"h":146.1},{"P":15,"M":1.625,"h":146},{"P":15,"M":1.7,"h":146},{"P":15,"M":1.775,"h":145.9},{"P":15,"M":1.85,"h":145.9},{"P":15,"M":1.925,"h":145.8},{"P":15,"M":2,"h":145.8},
{"P":16,"M":0.5,"h":147.7},{"P":16,"M":0.575,"h":147.6},{"P":16,"M":0.65,"h":147.6},{"P":16,"M":0.725,"h":147.5},{"P":16,"M":0.8,"h":147.5},{"P":16,"M":0.875,"h":147.4},{"P":16,"M":0.95,"h":147.4},{"P":16,"M":1.025,"h":147.3},{"P":16,"M":1.1,"h":147.3},{"P":16,"M":1.175,"h":147.2},{"P":16,"M":1.25,"h":147.2},{"P":16,"M":1.325,"h":147.1},{"P":16,"M":1.4,"h":147.1},{"P":16,"M":1.475,"h":147},{"P":16,"M":1.55,"h":147},{"P":16,"M":1.625,"h":146.9},{"P":16,"M":1.7,"h":146.9},{"P":16,"M":1.775,"h":146.8},{"P":16,"M":1.85,"h":146.8},{"P":16,"M":1.925,"h":146.7},{"P":16,"M":2,"h":146.7},
{"P":17,"M":0.5,"h":148.5},{"P":17,"M":0.575,"h":148.4},{"P":17,"M":0.65,"h":148.4},{"P":17,"M":0.725,"h":148.3},{"P":17,"M":0.8,"h":148.3},{"P":17,"M":0.875,"h":148.2},{"P":17,"M":0.95,"h":148.2},{"P":17,"M":1.025,"h":148.1},{"P":17,"M":1.1,"h":148.1},{"P":17,"M":1.175,"h":148},{"P":17,"M":1.25,"h":148},{"P":17,"M":1.325,"h":147.9},{"P":17,"M":1.4,"h":147.9},{"P":17,"M":1.475,"h":147.8},{"P":17,"M":1.55,"h":147.8},{"P":17,"M":1.625,"h":147.7},{"P":17,"M":1.7,"h":147.7},{"P":17,"M":1.775,"h":147.6},{"P":17,"M":1.85,"h":147.6},{"P":17,"M":1.925,"h":147.5},{"P":17,"M":2,"h":147.5},
{"P":18,"M":0.5,"h":149.2},{"P":18,"M":0.575,"h":149.1},{"P":18,"M":0.65,"h":149.1},{"P":18,"M":0.725,"h":149},{"P":18,"M":0.8,"h":148.9},{"P":18,"M":0.875,"h":148.9},{"P":18,"M":0.95,"h":148.8},{"P":18,"M":1.025,"h":148.7},{"P":18,"M":1.1,"h":148.7},{"P":18,"M":1.175,"h":148.6},{"P":18,"M":1.25,"h":148.5},{"P":18,"M":1.325,"h":148.5},{"P":18,"M":1.4,"h":148.4},{"P":18,"M":1.475,"h":148.4},{"P":18,"M":1.55,"h":148.3},{"P":18,"M":1.625,"h":148.2},{"P":18,"M":1.7,"h":148.2},{"P":18,"M":1.775,"h":148.1},{"P":18,"M":1.85,"h":148},{"P":18,"M":1.925,"h":148},{"P":18,"M":2,"h":147.9},
{"P":19,"M":0.5,"h":149.9},{"P":19,"M":0.575,"h":149.8},{"P":19,"M":0.65,"h":149.8},{"P":19,"M":0.725,"h":149.7},{"P":19,"M":0.8,"h":149.6},{"P":19,"M":0.875,"h":149.6},{"P":19,"M":0.95,"h":149.5},{"P":19,"M":1.025,"h":149.4},{"P":19,"M":1.1,"h":149.4},{"P":19,"M":1.175,"h":149.3},{"P":19,"M":1.25,"h":149.2},{"P":19,"M":1.325,"h":149.2},{"P":19,"M":1.4,"h":149.1},{"P":19,"M":1.475,"h":149.1},{"P":19,"M":1.55,"h":149},{"P":19,"M":1.625,"h":148.9},{"P":19,"M":1.7,"h":148.9},{"P":19,"M":1.775,"h":148.8},{"P":19,"M":1.85,"h":148.7},{"P":19,"M":1.925,"h":148.7},{"P":19,"M":2,"h":148.6},
{"P":20,"M":0.5,"h":150.5},{"P":20,"M":0.575,"h":150.4},{"P":20,"M":0.65,"h":150.4},{"P":20,"M":0.725,"h":150.3},{"P":20,"M":0.8,"h":150.2},{"P":20,"M":0.875,"h":150.2},{"P":20,"M":0.95,"h":150.1},{"P":20,"M":1.025,"h":150},{"P":20,"M":1.1,"h":150},{"P":20,"M":1.175,"h":149.9},{"P":20,"M":1.25,"h":149.8},{"P":20,"M":1.325,"h":149.8},{"P":20,"M":1.4,"h":149.7},{"P":20,"M":1.475,"h":149.7},{"P":20,"M":1.55,"h":149.6},{"P":20,"M":1.625,"h":149.5},{"P":20,"M":1.7,"h":149.5},{"P":20,"M":1.775,"h":149.4},{"P":20,"M":1.85,"h":149.3},{"P":20,"M":1.925,"h":149.3},{"P":20,"M":2,"h":149.2},
{"P":21,"M":0.5,"h":151},{"P":21,"M":0.575,"h":150.9},{"P":21,"M":0.65,"h":150.9},{"P":21,"M":0.725,"h":150.8},{"P":21,"M":0.8,"h":150.7},{"P":21,"M":0.875,"h":150.7},{"P":21,"M":0.95,"h":150.6},{"P":21,"M":1.025,"h":150.5},{"P":21,"M":1.1,"h":150.5},{"P":21,"M":1.175,"h":150.4},{"P":21,"M":1.25,"h":150.3},{"P":21,"M":1.325,"h":150.3},{"P":21,"M":1.4,"h":150.2},{"P":21,"M":1.475,"h":150.2},{"P":21,"M":1.55,"h":150.1},{"P":21,"M":1.625,"h":150},{"P":21,"M":1.7,"h":150},{"P":21,"M":1.775,"h":149.9},{"P":21,"M":1.85,"h":149.8},{"P":21,"M":1.925,"h":149.8},{"P":21,"M":2,"h":149.7},
{"P":22,"M":0.5,"h":151.5},{"P":22,"M":0.575,"h":151.4},{"P":22,"M":0.65,"h":151.4},{"P":22,"M":0.725,"h":151.3},{"P":22,"M":0.8,"h":151.2},{"P":22,"M":0.875,"h":151.2},{"P":22,"M":0.95,"h":151.1},{"P":22,"M":1.025,"h":151},{"P":22,"M":1.1,"h":151},{"P":22,"M":1.175,"h":150.9},{"P":22,"M":1.25,"h":150.8},{"P":22,"M":1.325,"h":150.8},{"P":22,"M":1.4,"h":150.7},{"P":22,"M":1.475,"h":150.7},{"P":22,"M":1.55,"h":150.6},{"P":22,"M":1.625,"h":150.5},{"P":22,"M":1.7,"h":150.5},{"P":22,"M":1.775,"h":150.4},{"P":22,"M":1.85,"h":150.3},{"P":22,"M":1.925,"h":150.3},{"P":22,"M":2,"h":150.2},
{"P":23,"M":0.5,"h":151.9},{"P":23,"M":0.575,"h":151.8},{"P":23,"M":0.65,"h":151.8},{"P":23,"M":0.725,"h":151.7},{"P":23,"M":0.8,"h":151.6},{"P":23,"M":0.875,"h":151.6},{"P":23,"M":0.95,"h":151.5},{"P":23,"M":1.025,"h":151.4},{"P":23,"M":1.1,"h":151.4},{"P":23,"M":1.175,"h":151.3},{"P":23,"M":1.25,"h":151.2},{"P":23,"M":1.325,"h":151.2},{"P":23,"M":1.4,"h":151.1},{"P":23,"M":1.475,"h":151.1},{"P":23,"M":1.55,"h":151},{"P":23,"M":1.625,"h":150.9},{"P":23,"M":1.7,"h":150.9},{"P":23,"M":1.775,"h":150.8},{"P":23,"M":1.85,"h":150.7},{"P":23,"M":1.925,"h":150.7},{"P":23,"M":2,"h":150.6},
{"P":24,"M":0.5,"h":152.3},{"P":24,"M":0.575,"h":152.2},{"P":24,"M":0.65,"h":152.2},{"P":24,"M":0.725,"h":152.1},{"P":24,"M":0.8,"h":152},{"P":24,"M":0.875,"h":152},{"P":24,"M":0.95,"h":151.9},{"P":24,"M":1.025,"h":151.8},{"P":24,"M":1.1,"h":151.8},{"P":24,"M":1.175,"h":151.7},{"P":24,"M":1.25,"h":151.6},{"P":24,"M":1.325,"h":151.6},{"P":24,"M":1.4,"h":151.5},{"P":24,"M":1.475,"h":151.5},{"P":24,"M":1.55,"h":151.4},{"P":24,"M":1.625,"h":151.3},{"P":24,"M":1.7,"h":151.3},{"P":24,"M":1.775,"h":151.2},{"P":24,"M":1.85,"h":151.1},{"P":24,"M":1.925,"h":151.1},{"P":24,"M":2,"h":151},
{"P":25,"M":0.5,"h":152.6},{"P":25,"M":0.575,"h":152.5},{"P":25,"M":0.65,"h":152.5},{"P":25,"M":0.725,"h":152.4},{"P":25,"M":0.8,"h":152.3},{"P":25,"M":0.875,"h":152.3},{"P":25,"M":0.95,"h":152.2},{"P":25,"M":1.025,"h":152.1},{"P":25,"M":1.1,"h":152.1},{"P":25,"M":1.175,"h":152},{"P":25,"M":1.25,"h":151.9},{"P":25,"M":1.325,"h":151.9},{"P":25,"M":1.4,"h":151.8},{"P":25,"M":1.475,"h":151.8},{"P":25,"M":1.55,"h":151.7},{"P":25,"M":1.625,"h":151.6},{"P":25,"M":1.7,"h":151.6},{"P":25,"M":1.775,"h":151.5},{"P":25,"M":1.85,"h":151.4},{"P":25,"M":1.925,"h":151.4},{"P":25,"M":2,"h":151.3}
]},
"transform":[
{"calculate":"isValid(datum.T)?0:1","as":"b"},
{"calculate":"datum.b?(datum.P-5)/20:(datum.T-120)/60","as":"x"},
{"calculate":"datum.b?(datum.M-0.5)/1.5:(datum.P-5)/20","as":"y"},
{"calculate":"isValid(datum.h)?0.252+0.00753*(datum.h-80)+0.0000035*(datum.h-80)*(180-datum.h):0","as":"z"},
{"calculate":"0.12597*datum.x+0.12901*datum.y-0.0716*datum.z+1","as":"w"},
{"calculate":"(869.5*datum.x-606.65*datum.y-73.9*datum.z+1021)/datum.w+datum.b*2044","as":"u"},
{"calculate":"(-176.1*datum.x-172.7*datum.y-1031*datum.z+1418)/datum.w-datum.b*3","as":"v"}
],
"encoding":{"x":{"field":"u","type":"quantitative","scale":{"domain":[0,3952]}},"y":{"field":"v","type":"quantitative","scale":{"domain":[1816,0]}}},
"layer":[
{"transform":[{"filter":"datum.k=='V'"}],"mark":{"type":"line","stroke":"#333333","strokeWidth":2.5},"encoding":{"detail":{"field":"id"},"order":{"field":"n"}}},
{"transform":[{"filter":"datum.k=='H'"}],"mark":{"type":"line","stroke":"#333333","strokeWidth":3.5},"encoding":{"detail":{"field":"id"},"order":{"field":"n"}}},
{"transform":[{"filter":"datum.k=='F'"}],"mark":{"type":"line","filled":true,"fill":"#646464","stroke":"#111111","strokeWidth":4},"encoding":{"detail":{"field":"id"},"order":{"field":"n"}}},
{"transform":[{"filter":"datum.k=='C'"}],"mark":{"type":"line","interpolate":"catmull-rom","strokeWidth":5},"encoding":{"detail":{"field":"id"},"order":{"field":"n"},"stroke":{"field":"L","type":"quantitative","legend":null,"scale":{"domain":[97,115.9,134.8,153.7,170],"range":["#0000ff","#00ffff","#00ff00","#ffff00","#ff0000"]}}}},
{"transform":[{"filter":"!datum.k"},{"calculate":"round(datum.x*20)","as":"i"},{"calculate":"round(datum.y*20)","as":"j"}],
"layer":[
{"transform":[{"calculate":"[0,1,2,3]","as":"c"},{"flatten":["c"]},{"calculate":"datum.i-((datum.c==1||datum.c==2)?1:0)","as":"ci"},{"calculate":"datum.j-(datum.c>=2?1:0)","as":"cj"},{"filter":"datum.ci>=0&&datum.cj>=0&&datum.ci<20&&datum.cj<20"},{"calculate":"datum.b+'_'+datum.ci+'_'+datum.cj","as":"cell"},{"joinaggregate":[{"op":"mean","field":"h","as":"m"}],"groupby":["cell"]}],
"mark":{"type":"line","filled":true},
"encoding":{"detail":{"field":"cell"},"order":{"field":"c"},"fill":{"field":"m","type":"quantitative","legend":null,"scale":{"domain":[97,115.9,134.8,153.7,170],"range":["#0000ff","#00ffff","#00ff00","#ffff00","#ff0000"]}}}},
{"transform":[{"calculate":"datum.b+'_'+datum.i","as":"mi"}],"mark":{"type":"line","stroke":"#000000","strokeWidth":2.2,"opacity":0.75},"encoding":{"detail":{"field":"mi"},"order":{"field":"j"}}},
{"transform":[{"calculate":"datum.b+'_'+datum.j","as":"mj"}],"mark":{"type":"line","stroke":"#000000","strokeWidth":2.2,"opacity":0.75},"encoding":{"detail":{"field":"mj"},"order":{"field":"i"}}}
]},
{"transform":[{"filter":"indexof(datum.k||'','t')==0"}],"mark":{"type":"point","filled":true,"color":"black","size":170,"opacity":1}},
{"transform":[{"filter":"datum.k=='tT'"}],"mark":{"type":"text","dx":92,"dy":62},"encoding":{"text":{"field":"l"}}},
{"transform":[{"filter":"datum.k=='tP'"}],"mark":{"type":"text","dx":-74,"dy":68},"encoding":{"text":{"field":"l"}}},
{"transform":[{"filter":"datum.k=='tQ'"}],"mark":{"type":"text","dx":48,"dy":40},"encoding":{"text":{"field":"l"}}},
{"transform":[{"filter":"datum.k=='tM'"}],"mark":{"type":"text","dx":-60,"dy":46},"encoding":{"text":{"field":"l"}}},
{"transform":[{"filter":"datum.k=='ta'"}],"mark":{"type":"text","align":"right","dx":-42,"dy":5},"encoding":{"text":{"field":"l"}}},
{"transform":[{"filter":"datum.k=='tb'"}],"mark":{"type":"text","align":"right","dx":-48,"dy":-18},"encoding":{"text":{"field":"l"}}},
{"transform":[{"filter":"datum.k=='Z'"}],"layer":[
{"mark":{"type":"text"},"encoding":{"text":{"value":"180"},"x":{"datum":1775,"type":"quantitative","scale":{"domain":[0,3952]}},"y":{"datum":1110,"type":"quantitative","scale":{"domain":[1816,0]}}}},
{"mark":{"type":"text"},"encoding":{"text":{"value":"25"},"x":{"datum":297,"type":"quantitative","scale":{"domain":[0,3952]}},"y":{"datum":1130,"type":"quantitative","scale":{"domain":[1816,0]}}}},
{"mark":{"type":"text"},"encoding":{"text":{"value":"5"},"x":{"datum":963,"type":"quantitative","scale":{"domain":[0,3952]}},"y":{"datum":1503,"type":"quantitative","scale":{"domain":[1816,0]}}}},
{"mark":{"type":"text"},"encoding":{"text":{"value":"120"},"x":{"datum":1083,"type":"quantitative","scale":{"domain":[0,3952]}},"y":{"datum":1500,"type":"quantitative","scale":{"domain":[1816,0]}}}},
{"mark":{"type":"text"},"encoding":{"text":{"value":"2"},"x":{"datum":2349,"type":"quantitative","scale":{"domain":[0,3952]}},"y":{"datum":1117,"type":"quantitative","scale":{"domain":[1816,0]}}}},
{"mark":{"type":"text","fontSize":100,"angle":270,"align":"left","baseline":"alphabetic"},"encoding":{"text":{"value":"h"},"x":{"datum":112,"type":"quantitative","scale":{"domain":[0,3952]}},"y":{"datum":894,"type":"quantitative","scale":{"domain":[1816,0]}}}},
{"mark":{"type":"text","fontSize":58,"angle":270,"align":"left","baseline":"alphabetic"},"encoding":{"text":{"value":"ads,m"},"x":{"datum":148,"type":"quantitative","scale":{"domain":[0,3952]}},"y":{"datum":842,"type":"quantitative","scale":{"domain":[1816,0]}}}},
{"mark":{"type":"text","fontSize":100,"angle":270,"align":"left","baseline":"alphabetic"},"encoding":{"text":{"value":"(kWh/m"},"x":{"datum":112,"type":"quantitative","scale":{"domain":[0,3952]}},"y":{"datum":701,"type":"quantitative","scale":{"domain":[1816,0]}}}},
{"mark":{"type":"text","fontSize":58,"angle":270,"align":"left","baseline":"alphabetic"},"encoding":{"text":{"value":"3"},"x":{"datum":80,"type":"quantitative","scale":{"domain":[0,3952]}},"y":{"datum":368,"type":"quantitative","scale":{"domain":[1816,0]}}}},
{"mark":{"type":"text","fontSize":100,"angle":270,"align":"left","baseline":"alphabetic"},"encoding":{"text":{"value":")"},"x":{"datum":112,"type":"quantitative","scale":{"domain":[0,3952]}},"y":{"datum":339,"type":"quantitative","scale":{"domain":[1816,0]}}}},
{"mark":{"type":"text","fontSize":100,"angle":270,"align":"left","baseline":"alphabetic"},"encoding":{"text":{"value":"h"},"x":{"datum":2141,"type":"quantitative","scale":{"domain":[0,3952]}},"y":{"datum":927,"type":"quantitative","scale":{"domain":[1816,0]}}}},
{"mark":{"type":"text","fontSize":57,"angle":270,"align":"left","baseline":"alphabetic"},"encoding":{"text":{"value":"ads,m"},"x":{"datum":2177,"type":"quantitative","scale":{"domain":[0,3952]}},"y":{"datum":876,"type":"quantitative","scale":{"domain":[1816,0]}}}},
{"mark":{"type":"text","fontSize":99,"angle":270,"align":"left","baseline":"alphabetic"},"encoding":{"text":{"value":"(kWh/m"},"x":{"datum":2141,"type":"quantitative","scale":{"domain":[0,3952]}},"y":{"datum":736,"type":"quantitative","scale":{"domain":[1816,0]}}}},
{"mark":{"type":"text","fontSize":57,"angle":270,"align":"left","baseline":"alphabetic"},"encoding":{"text":{"value":"3"},"x":{"datum":2108,"type":"quantitative","scale":{"domain":[0,3952]}},"y":{"datum":405,"type":"quantitative","scale":{"domain":[1816,0]}}}},
{"mark":{"type":"text","fontSize":99,"angle":270,"align":"left","baseline":"alphabetic"},"encoding":{"text":{"value":")"},"x":{"datum":2141,"type":"quantitative","scale":{"domain":[0,3952]}},"y":{"datum":370,"type":"quantitative","scale":{"domain":[1816,0]}}}},
{"mark":{"type":"text","fontSize":100,"angle":35},"encoding":{"text":{"value":"P"},"x":{"datum":384,"type":"quantitative","scale":{"domain":[0,3952]}},"y":{"datum":1344,"type":"quantitative","scale":{"domain":[1816,0]}}}},
{"mark":{"type":"text","fontSize":55,"angle":35},"encoding":{"text":{"value":"w,ads"},"x":{"datum":445,"type":"quantitative","scale":{"domain":[0,3952]}},"y":{"datum":1440,"type":"quantitative","scale":{"domain":[1816,0]}}}},
{"mark":{"type":"text","fontSize":100,"angle":35},"encoding":{"text":{"value":"(mbar)"},"x":{"datum":644,"type":"quantitative","scale":{"domain":[0,3952]}},"y":{"datum":1497,"type":"quantitative","scale":{"domain":[1816,0]}}}},
{"mark":{"type":"text","fontSize":100,"angle":-40},"encoding":{"text":{"value":"T"},"x":{"datum":1363,"type":"quantitative","scale":{"domain":[0,3952]}},"y":{"datum":1504,"type":"quantitative","scale":{"domain":[1816,0]}}}},
{"mark":{"type":"text","fontSize":55,"angle":-40},"encoding":{"text":{"value":"des"},"x":{"datum":1460,"type":"quantitative","scale":{"domain":[0,3952]}},"y":{"datum":1522,"type":"quantitative","scale":{"domain":[1816,0]}}}},
{"mark":{"type":"text","fontSize":100,"angle":-40},"encoding":{"text":{"value":"(°C)"},"x":{"datum":1547,"type":"quantitative","scale":{"domain":[0,3952]}},"y":{"datum":1429,"type":"quantitative","scale":{"domain":[1816,0]}}}},
{"mark":{"type":"text","fontSize":102,"angle":34},"encoding":{"text":{"value":"MFR (kg/hr)"},"x":{"datum":2621,"type":"quantitative","scale":{"domain":[0,3952]}},"y":{"datum":1444,"type":"quantitative","scale":{"domain":[1816,0]}}}},
{"mark":{"type":"text","fontSize":100,"angle":-37},"encoding":{"text":{"value":"P"},"x":{"datum":3323,"type":"quantitative","scale":{"domain":[0,3952]}},"y":{"datum":1479,"type":"quantitative","scale":{"domain":[1816,0]}}}},
{"mark":{"type":"text","fontSize":55,"angle":-37},"encoding":{"text":{"value":"w,ads"},"x":{"datum":3440,"type":"quantitative","scale":{"domain":[0,3952]}},"y":{"datum":1484,"type":"quantitative","scale":{"domain":[1816,0]}}}},
{"mark":{"type":"text","fontSize":100,"angle":-37},"encoding":{"text":{"value":"(mbar)"},"x":{"datum":3608,"type":"quantitative","scale":{"domain":[0,3952]}},"y":{"datum":1349,"type":"quantitative","scale":{"domain":[1816,0]}}}},
{"mark":{"type":"text","fontSize":100},"encoding":{"text":{"value":"I"},"x":{"datum":3904,"type":"quantitative","scale":{"domain":[0,3952]}},"y":{"datum":1330,"type":"quantitative","scale":{"domain":[1816,0]}}}},
{"mark":{"type":"text","fontSize":72},"encoding":{"text":{"value":"("},"x":{"datum":909,"type":"quantitative","scale":{"domain":[0,3952]}},"y":{"datum":1732,"type":"quantitative","scale":{"domain":[1816,0]}}}},
{"mark":{"type":"text","fontSize":72,"fontWeight":"bold"},"encoding":{"text":{"value":"a"},"x":{"datum":945,"type":"quantitative","scale":{"domain":[0,3952]}},"y":{"datum":1732,"type":"quantitative","scale":{"domain":[1816,0]}}}},
{"mark":{"type":"text","fontSize":72},"encoding":{"text":{"value":")"},"x":{"datum":981,"type":"quantitative","scale":{"domain":[0,3952]}},"y":{"datum":1732,"type":"quantitative","scale":{"domain":[1816,0]}}}},
{"mark":{"type":"text","fontSize":72},"encoding":{"text":{"value":"("},"x":{"datum":2926,"type":"quantitative","scale":{"domain":[0,3952]}},"y":{"datum":1732,"type":"quantitative","scale":{"domain":[1816,0]}}}},
{"mark":{"type":"text","fontSize":72,"fontWeight":"bold"},"encoding":{"text":{"value":"b"},"x":{"datum":2960,"type":"quantitative","scale":{"domain":[0,3952]}},"y":{"datum":1732,"type":"quantitative","scale":{"domain":[1816,0]}}}},
{"mark":{"type":"text","fontSize":72},"encoding":{"text":{"value":")"},"x":{"datum":2995,"type":"quantitative","scale":{"domain":[0,3952]}},"y":{"datum":1732,"type":"quantitative","scale":{"domain":[1816,0]}}}}
]}
]}
